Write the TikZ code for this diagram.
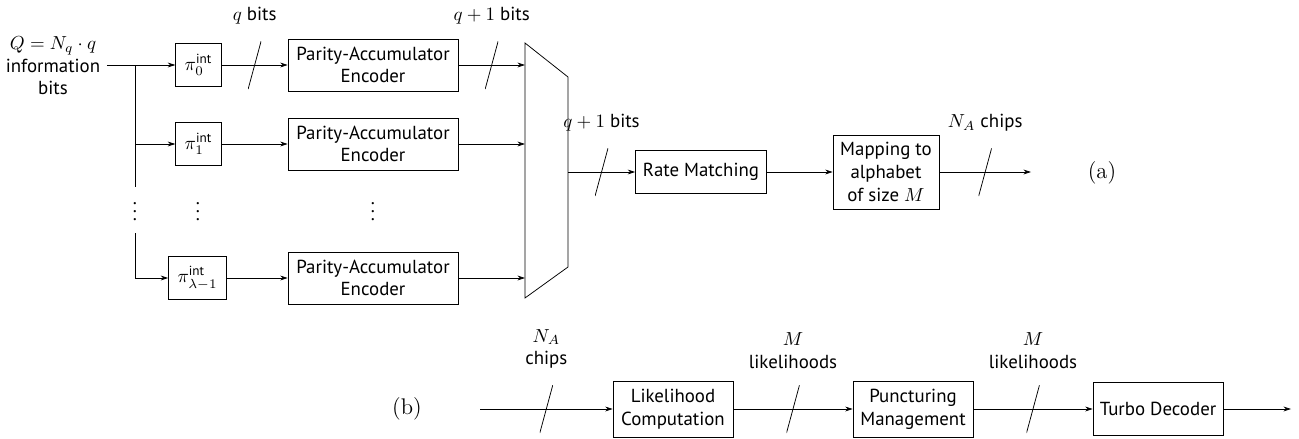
\documentclass[tikz,border=0pt]{standalone}
\usepackage{amsmath}
\usepackage{fontspec}
\setsansfont{PT Sans}
\usetikzlibrary{arrows.meta,positioning}

\def\px{0.53pt}

\begin{document}
\begin{tikzpicture}[x=\px,y=-\px,
  font=\sffamily,
  >={Stealth[length=4pt,width=2.6pt]},
  blk/.style={draw,align=center,inner sep=0pt},
  perm/.style={draw,inner xsep=9*\px,inner ysep=0pt,minimum height=43*\px},
  enc/.style={blk,minimum width=170*\px,minimum height=52*\px},
  dec/.style={blk,minimum width=120*\px,minimum height=56*\px},
  busmark/.style={inner sep=0pt,minimum width=13*\px,minimum height=48*\px,
    path picture={\draw[-] (path picture bounding box.south west)
      -- (path picture bounding box.north east);}},
  lbl/.style={label distance=5pt},
  tag/.style={font=\rmfamily\fontsize{12}{14}\selectfont},
  ]
  \useasboundingbox (0,0) rectangle (1299,439);

  %% (a) encoder side
  \node[align=center] (in) at (53,66) {$Q=N_q\cdot q$\\information\\bits};

  \node[perm] (p0) at (198.5,65) {$\pi^{\textsf{int}}_0$};
  \node[perm] (p1) at (198.5,144) {$\pi^{\textsf{int}}_1$};
  \node[perm] (pl) at (197.5,278) {$\pi^{\textsf{int}}_{\lambda-1}$};

  \node[enc] (enc0) at (373,65) {Parity-Accumulator\\Encoder};
  \node[enc] (enc1) at (373,144) {Parity-Accumulator\\Encoder};
  \node[enc] (encl) at (373,278) {Parity-Accumulator\\Encoder};

  \node (db) at (135,206) {$\vdots$};
  \node (dp) at (198,206) {$\vdots$};
  \node (de) at (373,206) {$\vdots$};

  \coordinate (br) at (135,65);  %% split point
  \coordinate (bt) at (135,187);
  \coordinate (bb) at (135,233);

  \draw[->] (in.east |- p0) -- (p0);
  \draw (br) -- (bt);
  \draw[->] (br |- p1) -- (p1);
  \draw[->] (bb) |- (pl);

  \draw[->] (p0) -- node[busmark,label={[lbl]above:$q$ bits}]{} (enc0);
  \draw[->] (p1) -- (enc1);
  \draw[->] (pl) -- (encl);

  %% multiplexer
  \coordinate (mtl) at (525,43);
  \coordinate (mtr) at (568,77);
  \coordinate (mbr) at (568,267);
  \coordinate (mbl) at (525,298);
  \coordinate (mout) at (568,172);
  \draw (mtl) -- (mtr) -- (mbr) -- (mbl) -- cycle;

  \draw[->] (enc0) -- node[busmark,label={[lbl]above:$q+1$ bits}]{} (enc0 -| mtl);
  \draw[->] (enc1) -- (enc1 -| mtl);
  \draw[->] (encl) -- (encl -| mtl);

  \node[blk,minimum width=131*\px,minimum height=43*\px] (rm) at (701,172) {Rate Matching};
  \node[blk,minimum width=106*\px,minimum height=74*\px] (map) at (886,172)
    {Mapping to\\alphabet\\of size $M$};
  \coordinate (aend) at (1031,172);

  \draw[->] (mout) -- node[busmark,label={[lbl]above:$q+1$ bits}]{} (rm);
  \draw[->] (rm) -- (map);
  \draw[->] (map) -- node[busmark,label={[lbl]above:$N_A$ chips}]{} (aend);

  \node[tag] (tagA) at (1102,173) {(a)};

  %% (b) receiver side
  \node[tag] (tagB) at (407,409) {(b)};
  \coordinate (bstart) at (480,409);
  \node[dec] (lik) at (673,409) {Likelihood\\Computation};
  \node[dec] (pun) at (913,409) {Puncturing\\Management};
  \node[blk,minimum width=130*\px,minimum height=53*\px] (tur) at (1158,409) {Turbo Decoder};
  \coordinate (bend) at (1291,409);

  \draw[->] (bstart) -- node[busmark,label={[lbl,align=center]above:$N_A$\\chips}]{} (lik);
  \draw[->] (lik) -- node[busmark,label={[lbl,align=center]above:$M$\\likelihoods}]{} (pun);
  \draw[->] (pun) -- node[busmark,label={[lbl,align=center]above:$M$\\likelihoods}]{} (tur);
  \draw[->] (tur) -- (bend);
\end{tikzpicture}
\end{document}
